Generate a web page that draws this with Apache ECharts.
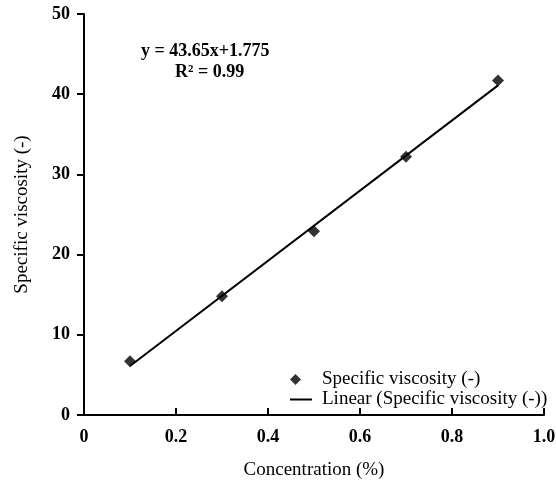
<!DOCTYPE html>
<html>
<head>
<meta charset="utf-8">
<script src="https://cdn.jsdelivr.net/npm/echarts@6/dist/echarts.min.js"></script>
<style>
html, body { margin: 0; padding: 0; background: #fff; }
#chart { width: 556px; height: 483px; }
</style>
</head>
<body>
<div id="chart"></div>
<script>
// measured points
var concentration = [0.1, 0.3, 0.5, 0.7, 0.9];
var viscosity = [6.7, 14.8, 22.9, 32.2, 41.7];
// linear trend line end points
var trendX = [0.1, 0.9];
var trendY = [6.1, 41.1];

var font = 'Liberation Serif';

var myChart = echarts.init(document.getElementById('chart'));
var option = {
	animation: false,
	backgroundColor: '#fff',
	grid: { left: 84, right: 12, top: 14, bottom: 68, containLabel: false, outerBoundsMode: 'none' },
	legend: [
		{
			left: 290,
			top: 370,
			padding: 0,
			itemWidth: 11,
			itemHeight: 11,
			textStyle: { color: '#000', fontFamily: font, fontSize: 19, padding: [0, 0, 0, 16] },
			data: [{ name: 'Specific viscosity (-)', icon: 'diamond' }]
		},
		{
			left: 290,
			top: 390,
			padding: 0,
			itemWidth: 22,
			itemHeight: 2,
			textStyle: { color: '#000', fontFamily: font, fontSize: 19, padding: [0, 0, 0, 5] },
			data: [{ name: 'Linear (Specific viscosity (-))', icon: 'rect' }]
		}
	],
	xAxis: {
		type: 'value',
		min: 0,
		max: 1,
		interval: 0.2,
		name: 'Concentration (%)',
		nameLocation: 'middle',
		nameGap: 46,
		nameTextStyle: { color: '#000', fontFamily: font, fontSize: 19 },
		axisLine: { lineStyle: { color: '#000', width: 2 } },
		axisTick: { inside: true, length: 7, lineStyle: { color: '#000', width: 2 } },
		axisLabel: {
			color: '#000', fontFamily: font, fontSize: 18, fontWeight: 'bold', margin: 13,
			formatter: function (v) { return v === 0 ? '0' : v.toFixed(1); }
		},
		splitLine: { show: false }
	},
	yAxis: {
		type: 'value',
		min: 0,
		max: 50,
		interval: 10,
		name: 'Specific viscosity (-)',
		nameLocation: 'middle',
		nameGap: 52,
		nameTextStyle: { color: '#000', fontFamily: font, fontSize: 19 },
		axisLine: { show: true, lineStyle: { color: '#000', width: 2 } },
		axisTick: { show: true, length: 7, lineStyle: { color: '#000', width: 2 } },
		axisLabel: { color: '#000', fontFamily: font, fontSize: 18, fontWeight: 'bold', margin: 14 },
		splitLine: { show: false }
	},
	graphic: [
		{
			type: 'text',
			left: 141,
			top: 42,
			style: {
				text: 'y = 43.65x+1.775',
				fontFamily: font, fontSize: 18, fontWeight: 'bold', fill: '#000'
			}
		},
		{
			type: 'text',
			left: 175,
			top: 63,
			style: {
				text: 'R² = 0.99',
				fontFamily: font, fontSize: 18, fontWeight: 'bold', fill: '#000'
			}
		}
	],
	series: [
		{
			name: 'Linear (Specific viscosity (-))',
			type: 'line',
			data: trendX.map(function (x, i) { return [x, trendY[i]]; }),
			symbol: 'none',
			lineStyle: { color: '#000', width: 2 },
			itemStyle: { color: '#000' },
			z: 2
		},
		{
			name: 'Specific viscosity (-)',
			type: 'scatter',
			data: concentration.map(function (x, i) { return [x, viscosity[i]]; }),
			symbol: 'diamond',
			symbolSize: 12,
			itemStyle: { color: '#000' },
			z: 3
		}
	]
};
myChart.setOption(option);
</script>
</body>
</html>
